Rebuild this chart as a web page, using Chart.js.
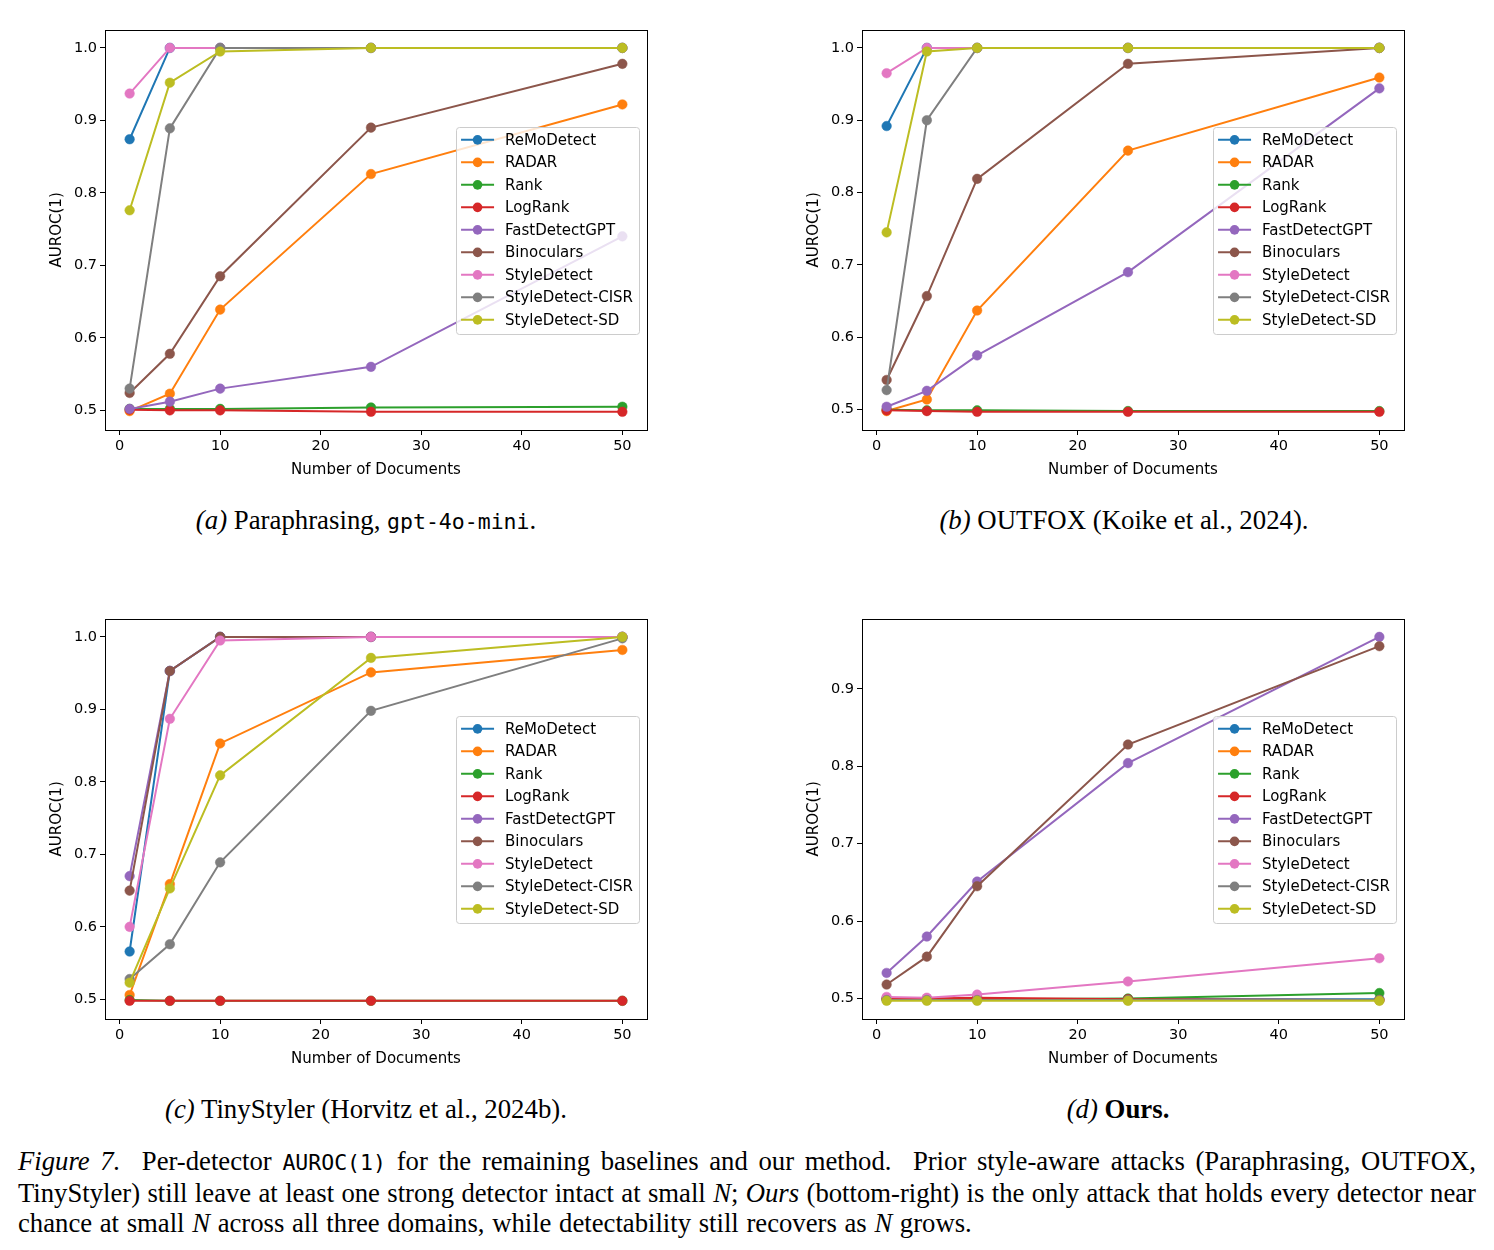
<!DOCTYPE html>
<html>
<head>
<meta charset="utf-8">
<script src="https://cdn.jsdelivr.net/npm/chart.js@4.4.0/dist/chart.umd.min.js"></script>
<style>
  body { margin: 0; background: #fff; width: 1494px; height: 1250px; position: relative; overflow: hidden; font-family: "Liberation Serif", serif; color: #000; }
  canvas { position: absolute; }
  .sub { position: absolute; width: 700px; text-align: center; font-size: 26.8px; line-height: 28px; white-space: nowrap; }
  .mono { font-family: "DejaVu Sans Mono", monospace; font-size: 21.5px; }
  #caption { position: absolute; left: 18px; top: 1146px; width: 1458px; font-size: 26.7px; line-height: 30px; }
  #caption div { white-space: nowrap; text-align: justify; text-align-last: justify; }
  #caption div.last { text-align-last: left; word-spacing: 1px; }
</style>
</head>
<body>
<canvas id="chartA" width="620" height="472" style="left:40px;top:18px"></canvas>
<canvas id="chartB" width="620" height="472" style="left:797px;top:18px"></canvas>
<canvas id="chartC" width="620" height="472" style="left:40px;top:607px"></canvas>
<canvas id="chartD" width="620" height="472" style="left:797px;top:607px"></canvas>

<div class="sub" style="left:16px;top:506px"><i>(a)</i> Paraphrasing, <span class="mono">gpt-4o-mini</span>.</div>
<div class="sub" style="left:774px;top:506px"><i>(b)</i> OUTFOX (Koike et al., 2024).</div>
<div class="sub" style="left:16px;top:1095px"><i>(c)</i> TinyStyler (Horvitz et al., 2024b).</div>
<div class="sub" style="left:768px;top:1095px"><i>(d)</i> <b>Ours.</b></div>

<div id="caption">
  <div><i>Figure 7.</i>&nbsp; Per-detector <span class="mono">AUROC(1)</span> for the remaining baselines and our method.&nbsp; Prior style-aware attacks (Paraphrasing, OUTFOX,</div>
  <div>TinyStyler) still leave at least one strong detector intact at small <i>N</i>; <i>Ours</i> (bottom-right) is the only attack that holds every detector near</div>
  <div class="last">chance at small <i>N</i> across all three domains, while detectability still recovers as <i>N</i> grows.</div>
</div>

<script>
const detectors = ["ReMoDetect", "RADAR", "Rank", "LogRank", "FastDetectGPT", "Binoculars", "StyleDetect", "StyleDetect-CISR", "StyleDetect-SD"];
const docCounts = [1, 5, 10, 25, 50];
const xTicks = [0, 10, 20, 30, 40, 50];
const yTicksBaseline = [0.5, 0.6, 0.7, 0.8, 0.9, 1.0];
const yTicksOurs = [0.5, 0.6, 0.7, 0.8, 0.9];

// one row per detector, same order as `detectors`
const paraphrasing = [
  [0.874, 1.0, 1.0, 1.0, 1.0],
  [0.499, 0.523, 0.639, 0.826, 0.922],
  [0.502, 0.502, 0.502, 0.504, 0.505],
  [0.501, 0.500, 0.500, 0.498, 0.498],
  [0.502, 0.512, 0.530, 0.560, 0.740],
  [0.524, 0.578, 0.685, 0.890, 0.978],
  [0.937, 1.0, 1.0, 1.0, 1.0],
  [0.530, 0.889, 1.0, 1.0, 1.0],
  [0.776, 0.952, 0.995, 1.0, 1.0],
];
const outfox = [
  [0.892, 1.0, 1.0, 1.0, 1.0],
  [0.498, 0.514, 0.637, 0.858, 0.959],
  [0.500, 0.499, 0.499, 0.498, 0.498],
  [0.499, 0.498, 0.497, 0.497, 0.497],
  [0.504, 0.526, 0.575, 0.690, 0.944],
  [0.541, 0.657, 0.819, 0.978, 1.0],
  [0.965, 1.0, 1.0, 1.0, 1.0],
  [0.527, 0.900, 1.0, 1.0, 1.0],
  [0.745, 0.995, 1.0, 1.0, 1.0],
];
const tinyStyler = [
  [0.566, 0.953, 1.0, 1.0, 1.0],
  [0.506, 0.659, 0.853, 0.951, 0.982],
  [0.499, 0.498, 0.498, 0.498, 0.498],
  [0.498, 0.498, 0.498, 0.498, 0.498],
  [0.670, 0.953, 1.0, 1.0, 1.0],
  [0.650, 0.953, 1.0, 1.0, 1.0],
  [0.600, 0.887, 0.995, 1.0, 1.0],
  [0.528, 0.576, 0.689, 0.898, 0.998],
  [0.523, 0.653, 0.809, 0.971, 1.0],
];
const ours = [
  [0.499, 0.499, 0.499, 0.499, 0.499],
  [0.499, 0.499, 0.500, 0.498, 0.498],
  [0.500, 0.499, 0.499, 0.500, 0.507],
  [0.500, 0.500, 0.501, 0.499, 0.498],
  [0.533, 0.580, 0.651, 0.804, 0.967],
  [0.518, 0.554, 0.645, 0.828, 0.955],
  [0.502, 0.501, 0.505, 0.522, 0.552],
  [0.498, 0.498, 0.498, 0.498, 0.498],
  [0.497, 0.497, 0.497, 0.497, 0.497],
];

const colors = ["#1f77b4", "#ff7f0e", "#2ca02c", "#d62728", "#9467bd", "#8c564b", "#e377c2", "#7f7f7f", "#bcbd22"];

Chart.defaults.font.family = "'DejaVu Sans', sans-serif";
Chart.defaults.font.size = 14.5;
Chart.defaults.color = "#000";

// matplotlib-style auto limits: 5% margin around data
function paddedRange(values) {
  const lo = Math.min(...values);
  const hi = Math.max(...values);
  const m = (hi - lo) * 0.05;
  return [lo - m, hi + m];
}

const frameBox = {
  id: "frameBox",
  afterDatasetsDraw(chart) {
    const { ctx, chartArea: a } = chart;
    ctx.save();
    ctx.strokeStyle = "#000";
    ctx.lineWidth = 1;
    ctx.strokeRect(Math.round(a.left) + 0.5, Math.round(a.top) + 0.5, Math.round(a.right - a.left), Math.round(a.bottom - a.top));
    ctx.restore();
  },
};

const legendBox = {
  id: "legendBox",
  afterDraw(chart) {
    const { ctx, chartArea: a } = chart;
    ctx.save();
    ctx.font = "15px 'DejaVu Sans'";
    const textW = Math.max(...detectors.map(d => ctx.measureText(d).width));
    const rowH = 22.5;
    const w = 49 + textW + 6;
    const h = rowH * detectors.length + 4;
    const x = a.right - 8 - w;
    const y = (a.top + a.bottom) / 2 - h / 2;

    ctx.fillStyle = "rgba(255,255,255,0.8)";
    ctx.strokeStyle = "#cccccc";
    ctx.lineWidth = 1;
    ctx.beginPath();
    ctx.roundRect(Math.round(x) + 0.5, Math.round(y) + 0.5, Math.round(w), Math.round(h), 3);
    ctx.fill();
    ctx.stroke();

    ctx.textBaseline = "middle";
    detectors.forEach((name, i) => {
      const cy = y + 2 + rowH * (i + 0.5);
      ctx.strokeStyle = colors[i];
      ctx.lineWidth = 2;
      ctx.beginPath();
      ctx.moveTo(x + 5, cy);
      ctx.lineTo(x + 38, cy);
      ctx.stroke();
      ctx.fillStyle = colors[i];
      ctx.beginPath();
      ctx.arc(x + 21.5, cy, 4.8, 0, Math.PI * 2);
      ctx.fill();
      ctx.fillStyle = "#000";
      ctx.fillText(name, x + 49, cy + 1);
    });
    ctx.restore();
  },
};

function makeChart(id, series, yTicks) {
  const [yMin, yMax] = paddedRange(series.flat());
  const [xMin, xMax] = paddedRange(docCounts);
  const n = detectors.length;

  return new Chart(document.getElementById(id), {
    type: "line",
    data: {
      labels: docCounts,
      datasets: detectors.map((name, i) => ({
        label: name,
        data: docCounts.map((d, j) => ({ x: d, y: series[i][j] })),
        borderColor: colors[i],
        backgroundColor: colors[i],
        borderWidth: 2,
        pointRadius: 4.8,
        pointBorderWidth: 0.5,
        pointHoverRadius: 4.8,
        tension: 0,
        order: n - i,
      })),
    },
    options: {
      responsive: false,
      animation: false,
      devicePixelRatio: 1,
      layout: { padding: { top: 10, right: 13, left: 0, bottom: 0 } },
      plugins: { legend: { display: false }, tooltip: { enabled: false } },
      scales: {
        x: {
          type: "linear",
          min: xMin,
          max: xMax,
          afterBuildTicks: axis => { axis.ticks = xTicks.map(v => ({ value: v })); },
          afterFit: axis => { axis.height = 60; },
          ticks: { padding: 3, maxRotation: 0, callback: v => String(v) },
          grid: { display: true, drawOnChartArea: false, drawTicks: true, tickLength: 5, color: "#000" },
          border: { display: false },
          title: { display: true, text: "Number of Documents", font: { size: 15 }, padding: { top: 2, bottom: 11 } },
        },
        y: {
          min: yMin,
          max: yMax,
          afterBuildTicks: axis => { axis.ticks = yTicks.map(v => ({ value: v })); },
          afterFit: axis => { axis.width = 65; },
          ticks: { padding: 3, callback: v => v.toFixed(1) },
          grid: { display: true, drawOnChartArea: false, drawTicks: true, tickLength: 5, color: "#000" },
          border: { display: false },
          title: { display: true, text: "AUROC(1)", font: { size: 15 }, padding: { top: 8, bottom: 0 } },
        },
      },
    },
    plugins: [frameBox, legendBox],
  });
}

makeChart("chartA", paraphrasing, yTicksBaseline);
makeChart("chartB", outfox, yTicksBaseline);
makeChart("chartC", tinyStyler, yTicksBaseline);
makeChart("chartD", ours, yTicksOurs);
</script>
</body>
</html>
